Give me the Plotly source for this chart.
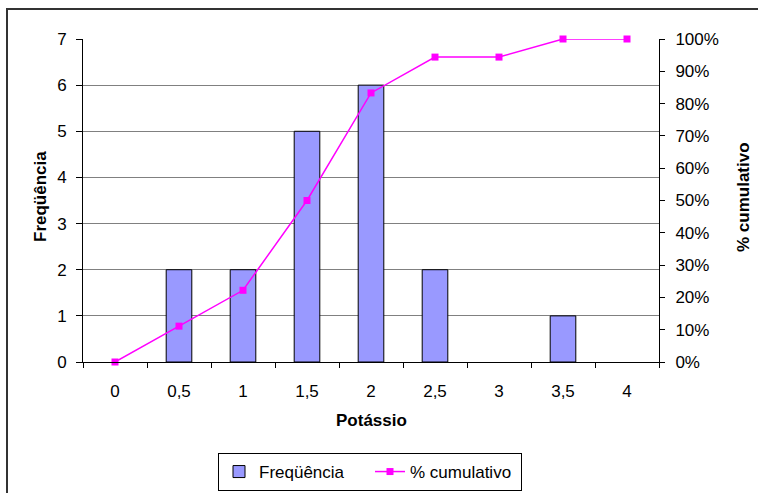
import plotly.graph_objects as go

categories = ["0", "0,5", "1", "1,5", "2", "2,5", "3", "3,5", "4"]
frequencia = [0, 2, 2, 5, 6, 2, 0, 1, 0]
cumulativo = [0.0, 0.111, 0.222, 0.50, 0.833, 0.944, 0.944, 1.0, 1.0]

xpos = list(range(len(categories)))
FONT = "Liberation Sans, Arial, sans-serif"

fig = go.Figure()
fig.add_trace(go.Bar(
    x=xpos, y=[v if v else None for v in frequencia], name="Freqüência",
    marker=dict(color="#9999FF", line=dict(color="black", width=1)),
))
fig.add_trace(go.Scatter(
    x=xpos, y=cumulativo, name="% cumulativo", yaxis="y2",
    mode="lines+markers", cliponaxis=False,
    line=dict(color="#FF00FF", width=1.5),
    marker=dict(symbol="square", size=7, color="#FF00FF"),
))

L, R, T, B = 83, 99, 39, 131
W, H = 758, 493
pw, ph = W - L - R, H - T - B

def px_x(x):
    return (x - L) / pw

def px_y(y):
    return (H - B - y) / ph

fig.update_layout(
    width=W, height=H,
    margin=dict(l=L, r=R, t=T, b=B, autoexpand=False),
    paper_bgcolor="white", plot_bgcolor="white",
    font=dict(family=FONT, size=17, color="black"),
    bargap=0.6,
    showlegend=True,
    legend=dict(
        orientation="h", x=px_x(370), y=px_y(491),
        xanchor="center", yanchor="bottom",
        bordercolor="black", borderwidth=1,
        font=dict(size=17), bgcolor="white",
        entrywidth=106,
    ),
    xaxis=dict(
        range=[-0.5, 8.5], tickmode="array", tickvals=xpos, ticktext=categories,
        ticks="", showgrid=False, showline=True, linecolor="black", linewidth=1,
        zeroline=False, ticklabelstandoff=14, automargin=False,
        minor=dict(tick0=0.5, dtick=1, ticks="outside", ticklen=5,
                   tickcolor="black", showgrid=False),
    ),
    yaxis=dict(
        range=[0, 7], dtick=1, ticks="outside", ticklen=6, tickcolor="black",
        showline=True, linecolor="black", linewidth=1, automargin=False,
        showgrid=True, gridcolor="#808080", gridwidth=1, zeroline=False,
        ticklabelstandoff=6,
    ),
    yaxis2=dict(
        range=[0, 1], dtick=0.1, tickformat=".0%", overlaying="y", side="right",
        ticks="outside", ticklen=5, tickcolor="black", automargin=False,
        showline=True, linecolor="black", linewidth=1,
        showgrid=False, zeroline=False, ticklabelstandoff=7,
    ),
    shapes=[dict(
        type="rect", xref="paper", yref="paper",
        x0=px_x(7), x1=px_x(900), y0=px_y(700), y1=px_y(9),
        line=dict(color="#333333", width=2), fillcolor="rgba(0,0,0,0)", layer="below",
    )],
    annotations=[
        dict(text="<b>Potássio</b>", xref="paper", yref="paper",
             x=px_x(371), y=px_y(421), xanchor="center", yanchor="middle",
             showarrow=False, font=dict(size=17)),
        dict(text="<b>Freqüência</b>", xref="paper", yref="paper",
             x=px_x(40), y=px_y(197), xanchor="center", yanchor="middle",
             textangle=-90, showarrow=False, font=dict(size=17)),
        dict(text="<b>% cumulativo</b>", xref="paper", yref="paper",
             x=px_x(743), y=px_y(197), xanchor="center", yanchor="middle",
             textangle=-90, showarrow=False, font=dict(size=17)),
    ],
)

fig.write_html("out.html")
